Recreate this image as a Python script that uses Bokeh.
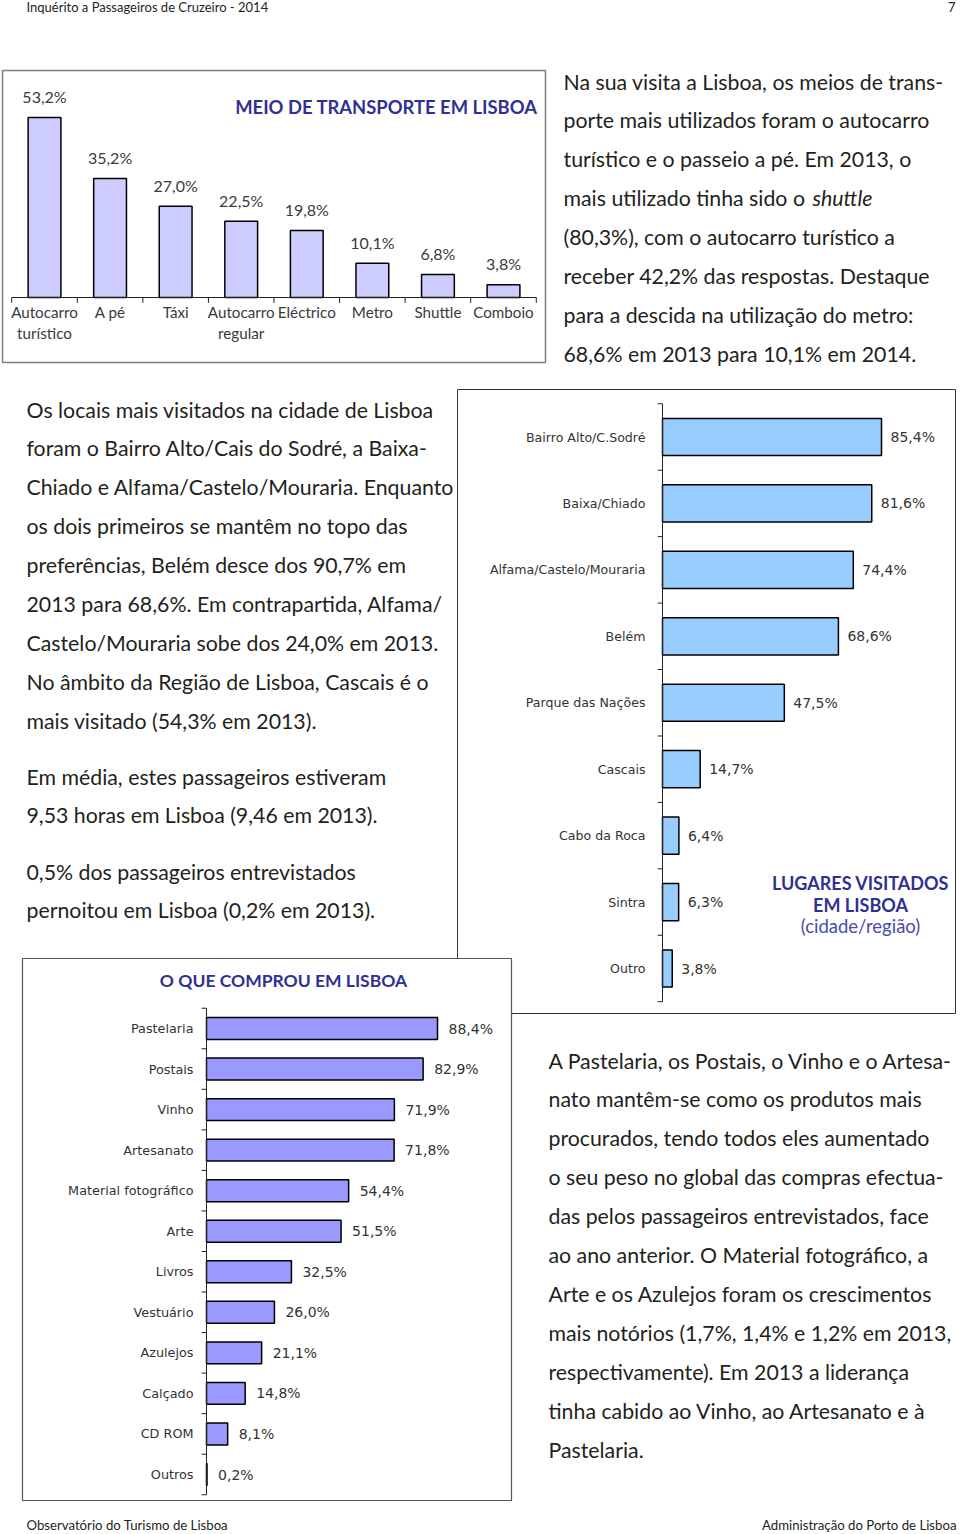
import numpy as np
from bokeh.plotting import figure
from bokeh.models import Range1d
from bokeh.core.properties import value
from bokeh.embed import file_html
from bokeh.resources import INLINE

# ---------------- data ----------------
transport_cats = ["Autocarro\nturístico", "A pé", "Táxi", "Autocarro\nregular",
                  "Eléctrico", "Metro", "Shuttle", "Comboio"]
transport_vals = [53.2, 35.2, 27.0, 22.5, 19.8, 10.1, 6.8, 3.8]

places_cats = ["Bairro Alto/C.Sodré", "Baixa/Chiado", "Alfama/Castelo/Mouraria", "Belém",
               "Parque das Nações", "Cascais", "Cabo da Roca", "Sintra", "Outro"]
places_vals = [85.4, 81.6, 74.4, 68.6, 47.5, 14.7, 6.4, 6.3, 3.8]

purchase_cats = ["Pastelaria", "Postais", "Vinho", "Artesanato", "Material fotográfico", "Arte",
                 "Livros", "Vestuário", "Azulejos", "Calçado", "CD ROM", "Outros"]
purchase_vals = [88.4, 82.9, 71.9, 71.8, 54.4, 51.5, 32.5, 26.0, 21.1, 14.8, 8.1, 0.2]

header_left = "Inquérito a Passageiros de Cruzeiro - 2014"
header_right = "7"
footer_left = "Observatório do Turismo de Lisboa"
footer_right = "Administração do Porto de Lisboa"

para1 = ["Na sua visita a Lisboa, os meios de trans-",
         "porte mais utilizados foram o autocarro",
         "turístico e o passeio a pé. Em 2013, o",
         "mais utilizado tinha sido o",
         "(80,3%), com o autocarro turístico a",
         "receber 42,2% das respostas. Destaque",
         "para a descida na utilização do metro:",
         "68,6% em 2013 para 10,1% em 2014."]
para1_italic = "shuttle"
para2 = ["Os locais mais visitados na cidade de Lisboa",
         "foram o Bairro Alto/Cais do Sodré, a Baixa-",
         "Chiado e Alfama/Castelo/Mouraria. Enquanto",
         "os dois primeiros se mantêm no topo das",
         "preferências, Belém desce dos 90,7% em",
         "2013 para 68,6%. Em contrapartida, Alfama/",
         "Castelo/Mouraria sobe dos 24,0% em 2013.",
         "No âmbito da Região de Lisboa, Cascais é o",
         "mais visitado (54,3% em 2013)."]
para3 = ["Em média, estes passageiros estiveram",
         "9,53 horas em Lisboa (9,46 em 2013)."]
para4 = ["0,5% dos passageiros entrevistados",
         "pernoitou em Lisboa (0,2% em 2013)."]
para5 = ["A Pastelaria, os Postais, o Vinho e o Artesa-",
         "nato mantêm-se como os produtos mais",
         "procurados, tendo todos eles aumentado",
         "o seu peso no global das compras efectua-",
         "das pelos passageiros entrevistados, face",
         "ao ano anterior. O Material fotográfico, a",
         "Arte e os Azulejos foram os crescimentos",
         "mais notórios (1,7%, 1,4% e 1,2% em 2013,",
         "respectivamente). Em 2013 a liderança",
         "tinha cabido ao Vinho, ao Artesanato e à",
         "Pastelaria."]

def pct(v):
    return f"{v:.1f}".replace(".", ",") + "%"

# ---------------- page figure ----------------
W, H = 958, 1532
X0, Y0 = 0, 0
p = figure(width=W, height=H, x_range=Range1d(X0, X0 + W), y_range=Range1d(Y0 + H, Y0),
           output_backend="svg", toolbar_location=None,
           x_axis_location=None, y_axis_location=None, min_border=0,
           outline_line_color=None, background_fill_color="white")
p.xgrid.visible = False
p.ygrid.visible = False

def xr(name, v1, X1, v2, X2):
    k = (X2 - X1) / (v2 - v1)
    s = v1 - (X1 - X0) / k
    p.extra_x_ranges[name] = Range1d(s, s + W / k)

def yr(name, v1, Y1, v2, Y2):
    k = (Y1 - Y2) / (v2 - v1)
    s = v1 - (Y0 + H - Y1) / k
    p.extra_y_ranges[name] = Range1d(s, s + H / k)

TXT = "#231f20"
NAVY = "#2e3192"
PF = "Lato"
CF = "DejaVu Sans"

def text(xs, ys, ss, size, color=TXT, font=PF, align="left", baseline="middle",
         style="normal", xn="default", yn="default", xo=0, yo=0, lh=1.2):
    p.text(x=xs, y=ys, text=ss, text_font=value(font), text_font_size=f"{size}px",
           text_color=color, text_align=align, text_baseline=baseline,
           text_font_style=style, x_range_name=xn, y_range_name=yn,
           x_offset=xo, y_offset=yo, text_line_height=lh)

# header / footer
text([26], [6], [header_left], 13)
text([955], [6], [header_right], 13, align="right")
text([26], [1524], [footer_left], 13.2)
text([956], [1524], [footer_right], 13.2, align="right")

# paragraphs
PS = 21.3
def para(lines, x, y, step=38.9, size=PS):
    text([x] * len(lines), [y + i * step for i in range(len(lines))], lines, size)

para(para1, 563, 81)
text([812], [81 + 3 * 38.9], [para1_italic], PS, style="italic")
para(para2, 26, 409)
para(para3, 26, 776)
para(para4, 26, 871)
para(para5, 548, 1060)

# ---------------- chart 1 : transport ----------------
p.quad(left=[2], right=[545], top=[70], bottom=[362], fill_color="white",
       line_color="#7f7f7f", line_width=1.5)
n1 = len(transport_vals)
idx1 = np.arange(n1)
xr("t_x", 0, 44, n1 - 1, 503)
yr("t_y", 0, 297, 53.2, 117)
p.vbar(x=idx1, top=transport_vals, bottom=0, width=0.5, x_range_name="t_x", y_range_name="t_y",
       fill_color="#ccccff", line_color="black", line_width=1.5)
p.segment(x0=[-0.5], y0=[0], x1=[n1 - 0.5], y1=[0], x_range_name="t_x", y_range_name="t_y",
          line_color="#222222", line_width=1)
b1 = np.arange(n1 + 1) - 0.5
p.segment(x0=b1, y0=[0] * (n1 + 1), x1=b1, y1=[-1.6] * (n1 + 1), x_range_name="t_x",
          y_range_name="t_y", line_color="#222222", line_width=1)
text(list(idx1), transport_vals, [pct(v) for v in transport_vals], 16, color="#3a3a3a",
     align="center", xn="t_x", yn="t_y", yo=-21)
text(list(idx1), [0] * n1, transport_cats, 15.2, color="#3a3a3a", align="center",
     baseline="top", xn="t_x", yn="t_y", yo=5)
text([537], [106], ["MEIO DE TRANSPORTE EM LISBOA"], 18.4, color=NAVY, align="right",
     style="bold")

# ---------------- chart 2 : places ----------------
p.quad(left=[457], right=[955], top=[389], bottom=[1013], fill_color="white",
       line_color="#333333", line_width=1)
n2 = len(places_vals)
idx2 = np.arange(n2)
yr("p_y", 0, 436.5, n2 - 1, 968)
xr("p_x", 0, 662, 85.4, 881)
p.hbar(y=idx2, right=places_vals, left=0, height=0.56, x_range_name="p_x", y_range_name="p_y",
       fill_color="#99ccff", line_color="black", line_width=1.5)
p.segment(x0=[0], y0=[-0.5], x1=[0], y1=[n2 - 0.5], x_range_name="p_x", y_range_name="p_y",
          line_color="#222222", line_width=1)
b2 = np.arange(n2 + 1) - 0.5
p.segment(x0=[0] * (n2 + 1), y0=b2, x1=[-1.9] * (n2 + 1), y1=b2, x_range_name="p_x",
          y_range_name="p_y", line_color="#222222", line_width=1)
text([0] * n2, list(idx2), places_cats, 12.6, color="#333333", font=CF, align="right",
     xn="p_x", yn="p_y", xo=-17)
text(places_vals, list(idx2), [pct(v) for v in places_vals], 14, color="#333333", font=CF,
     xn="p_x", yn="p_y", xo=9)
text([860, 860], [882, 904], ["LUGARES VISITADOS", "EM LISBOA"], 18, color=NAVY,
     align="center", style="bold")
text([860], [925], ["(cidade/região)"], 18.5, color="#4a4aa8", align="center")

# ---------------- chart 3 : purchases ----------------
p.quad(left=[22], right=[511], top=[958], bottom=[1500], fill_color="white",
       line_color="#555555", line_width=1.2)
n3 = len(purchase_vals)
idx3 = np.arange(n3)
yr("c_y", 0, 1028, n3 - 1, 1474)
xr("c_x", 0, 206, 88.4, 437)
p.hbar(y=idx3, right=purchase_vals, left=0, height=0.54, x_range_name="c_x", y_range_name="c_y",
       fill_color="#9999ff", line_color="black", line_width=1.5)
p.segment(x0=[0], y0=[-0.5], x1=[0], y1=[n3 - 0.5], x_range_name="c_x", y_range_name="c_y",
          line_color="#222222", line_width=1)
b3 = np.arange(n3 + 1) - 0.5
p.segment(x0=[0] * (n3 + 1), y0=b3, x1=[-1.9] * (n3 + 1), y1=b3, x_range_name="c_x",
          y_range_name="c_y", line_color="#222222", line_width=1)
text([0] * n3, list(idx3), purchase_cats, 12.8, color="#333333", font=CF, align="right",
     xn="c_x", yn="c_y", xo=-13)
text(purchase_vals, list(idx3), [pct(v) for v in purchase_vals], 14, color="#333333",
     font=CF, xn="c_x", yn="c_y", xo=11)
text([283], [980], ["O QUE COMPROU EM LISBOA"], 17.5, color=NAVY, align="center",
     style="bold")

open("out.html", "w").write(file_html(p, INLINE))
